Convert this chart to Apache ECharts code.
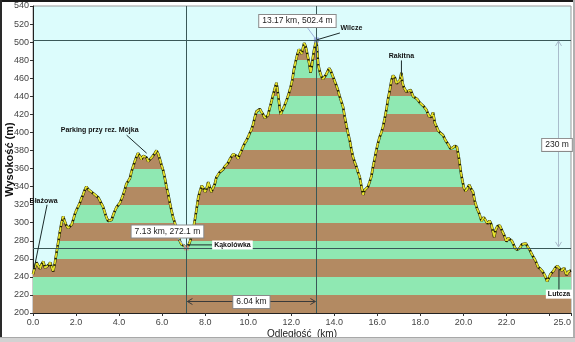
<!DOCTYPE html>
<html><head><meta charset="utf-8">
<script src="https://cdn.jsdelivr.net/npm/echarts@6/dist/echarts.min.js"></script>
<style>
html,body{margin:0;padding:0;background:#fff;}
#c{position:absolute;left:0;top:0;width:575px;height:342px;}
.fr{position:absolute;pointer-events:none;}
</style></head><body>
<div id="c"></div>
<div class="fr" style="left:0;top:0;width:575px;height:2px;background:#1a1a1a"></div>
<div class="fr" style="left:0;top:0;width:2px;height:342px;background:#2a2a2a"></div>
<div class="fr" style="right:0;top:0;width:2px;height:342px;background:#b0b0b0"></div>
<div class="fr" style="left:0;bottom:0;width:575px;height:4px;background:#d2d2d2;border-top:1px solid #a8a8a8"></div>
<script>
// ---- data ----
const distKm = [0.00,0.08,0.16,0.25,0.33,0.40,0.48,0.56,0.64,0.72,0.80,0.88,0.94,1.02,1.10,1.17,1.25,1.32,1.40,1.47,1.55,1.63,1.71,1.80,1.88,1.95,2.02,2.10,2.18,2.25,2.33,2.40,2.48,2.56,2.64,2.72,2.80,2.88,2.95,3.03,3.10,3.18,3.25,3.33,3.41,3.49,3.57,3.65,3.72,3.80,3.88,3.96,4.04,4.11,4.19,4.27,4.34,4.42,4.50,4.57,4.65,4.73,4.81,4.88,4.96,5.04,5.12,5.20,5.28,5.35,5.43,5.51,5.58,5.66,5.74,5.82,5.90,5.97,6.05,6.13,6.20,6.28,6.36,6.43,6.51,6.59,6.67,6.74,6.82,6.90,6.97,7.05,7.13,7.20,7.28,7.36,7.44,7.52,7.60,7.68,7.76,7.84,7.92,8.00,8.07,8.14,8.20,8.29,8.37,8.45,8.52,8.60,8.68,8.75,8.83,8.91,8.99,9.06,9.14,9.22,9.30,9.38,9.45,9.53,9.61,9.69,9.76,9.84,9.92,10.00,10.07,10.15,10.23,10.30,10.38,10.46,10.54,10.61,10.69,10.77,10.85,10.92,11.00,11.08,11.15,11.23,11.31,11.36,11.41,11.46,11.51,11.58,11.66,11.74,11.82,11.90,11.97,12.05,12.12,12.20,12.28,12.36,12.43,12.49,12.55,12.60,12.66,12.72,12.78,12.84,12.90,12.95,13.00,13.06,13.12,13.17,13.21,13.25,13.32,13.40,13.47,13.55,13.62,13.68,13.76,13.84,13.92,14.00,14.08,14.17,14.25,14.33,14.41,14.48,14.56,14.64,14.72,14.79,14.87,14.95,15.03,15.10,15.18,15.25,15.34,15.41,15.49,15.57,15.64,15.72,15.80,15.88,15.95,16.03,16.11,16.19,16.26,16.34,16.42,16.50,16.58,16.66,16.73,16.77,16.83,16.89,16.97,17.05,17.12,17.17,17.23,17.35,17.45,17.55,17.66,17.75,17.85,17.97,18.06,18.15,18.28,18.40,18.50,18.59,18.68,18.76,18.83,18.95,19.05,19.17,19.29,19.40,19.50,19.60,19.70,19.79,19.90,20.02,20.10,20.19,20.27,20.37,20.45,20.53,20.63,20.74,20.84,20.95,21.00,21.12,21.22,21.30,21.43,21.50,21.58,21.69,21.80,21.90,22.00,22.08,22.16,22.25,22.31,22.40,22.50,22.62,22.72,22.80,22.90,23.00,23.08,23.16,23.25,23.35,23.47,23.57,23.68,23.78,23.89,23.97,24.05,24.17,24.27,24.37,24.48,24.58,24.68,24.79,24.88,24.97,25.00];
const elevM = [243,250,256,252,249,254,257,250,248,253,256,250,246,256,268,278,290,299,307,302,297,294,292,298,304,310,314,318,322,327,331,336,340,337,337,334,335,331,332,328,325,321,318,312,306,302,300,303,308,313,317,319,322,326,331,337,343,346,349,356,362,368,373,377,374,370,374,375,372,368,367,372,374,377,380,376,370,364,358,349,340,332,322,314,306,300,293,287,280,276,275,274,272.1,274,278,285,292,303,315,328,335,341,338,334,338,345,343,334,336,343,350,353,356,355,359,362,364,366,370,373,376,374,374,371,376,380,384,388,391,395,399,403,409,416,423,424,426,423,420,416,414,419,427,434,441,448,455,448,438,428,420,424,428,433,438,444,450,458,469,478,486,492,490,487,494,499,496,490,483,476,466,472,482,491,498,502.4,490,476,468,462,459,458,464,467,471,468,463,458,453,447,440,434,428,418,408,399,391,382,373,367,362,356,351,342,331,336,337,340,345,351,362,371,380,388,395,400,406,415,425,437,447,458,463,465,460,454,456,458,466,455,450,445,446,447,440,439,437,433,431,429,425,418,417,422,410,406,402,399,397,391,387,382,383,385,384,372,353,339,335,338,342,337,334,324,316,310,302,306,308,299,302,298,284,292,296,297,291,286,279,283,284,280,277,272,270,272,276,278,277,273,270,266,262,258,251,249,246,242,235,239,243,246,250,252,249,247,250,242,246,248,247];
const yTicks = [200,220,240,260,280,300,320,340,360,380,400,420,440,460,480,500,520,540];
const xTickStepKm = 2;
const xMaxKm = 25;
const markerKm = [7.13, 13.17];
const markerElev = [272.1, 502.4];
const placeNames = ['Błażowa','Parking przy rez. Mójka','Kąkolówka','Wilcze','Rakitna','Lutcza'];
const placeKm = [0.05, 5.28, 7.13, 13.17, 17.12, 24.44];
const placeElev = [249, 377, 272.1, 502.4, 462, 248];

// ---- styling ----
const FONT = '"Liberation Sans", Arial, sans-serif';
const BROWN = '#b38a62', GREEN = '#8fe8b2', SKY = '#dcfcfc', REF = '#3a5858';
// label layout offsets relative to anchor point: [textDx,textDy, leadFromDx,leadFromDy, leadToDx,leadToDy, boxed]
const placeLayout = [
  [9.5,-68, 0,0, 13,-64, false],
  [-47,-23, 0,0, -20,-18, false],
  [46,-3, 1,-3, 25.5,-3, true],
  [35,-11.5, 0,0, 23.5,-7, false],
  [0,-20, 0,0, 0,-16, false],
  [0,24.5, 0,0, 0,20, true]
];
const valueLayout = [[-19,-16.5,-9.5,-10.5],[-19,-19,-9.5,-13]];

const data = distKm.map((d,i)=>[d, elevM[i]]);
const chart = echarts.init(document.getElementById('c'), null, {renderer:'canvas'});

const base = {
  animation:false,
  grid:{left:33, top:6, width:538, height:307, outerBoundsMode:'none', containLabel:false,
    show:true, backgroundColor:SKY, borderColor:'#9a9a9a', borderWidth:1},
  xAxis:{type:'value', min:0, max:xMaxKm, interval:xTickStepKm,
    name:'Odległość  (km)', nameLocation:'middle', nameGap:16, nameMoveOverlap:false,
    nameTextStyle:{fontFamily:FONT, fontSize:10, color:'#222'},
    axisLine:{show:true, lineStyle:{color:'#222'}},
    axisTick:{show:true, length:3, lineStyle:{color:'#333'}},
    axisLabel:{fontFamily:FONT, fontSize:9, color:'#444', margin:5, showMaxLabel:true, alignMaxLabel:'right',
      formatter:v=> (v===24 ? '' : v.toFixed(1))},
    splitLine:{show:false}},
  yAxis:{type:'value', min:yTicks[0], max:yTicks[yTicks.length-1], interval:yTicks[1]-yTicks[0],
    name:'Wysokość (m)', nameLocation:'middle', nameGap:18, nameMoveOverlap:false,
    nameTextStyle:{fontFamily:FONT, fontSize:11, fontWeight:'bold', color:'#111'},
    axisLine:{show:true, lineStyle:{color:'#222'}},
    axisTick:{show:true, length:3, lineStyle:{color:'#333'}},
    axisLabel:{fontFamily:FONT, fontSize:9, color:'#444', margin:4},
    splitLine:{show:false}},
  series:[]
};
chart.setOption(base);

const y0 = chart.convertToPixel({yAxisIndex:0}, yTicks[0]);
const y1 = chart.convertToPixel({yAxisIndex:0}, yTicks[yTicks.length-1]);
const span = yTicks[yTicks.length-1]-yTicks[0];
const stops = [];
for (let i=0;i<yTicks.length-1;i++){
  const c = i%2===0 ? BROWN : GREEN;
  stops.push({offset:(yTicks[i]-yTicks[0])/span, color:c});
  stops.push({offset:(yTicks[i+1]-yTicks[0])/span, color:c});
}
const bandFill = {type:'linear', x:0, y:y0, x2:0, y2:y1, global:true, colorStops:stops};

const P = (km,m)=>chart.convertToPixel({xAxisIndex:0,yAxisIndex:0},[km,m]);
const g = [];
const Z = 50;
function line(a,b,color){ g.push({type:'line', z:Z, silent:true, shape:{x1:a[0],y1:a[1],x2:b[0],y2:b[1]}, style:{stroke:color, lineWidth:1}}); }
function pl(pts,color){ g.push({type:'polyline', z:Z, silent:true, shape:{points:pts}, style:{stroke:color, fill:null, lineWidth:1}}); }
function txt(x,y,t,opt){ g.push({type:'text', z:Z+1, silent:true, x:x, y:y, style:Object.assign({text:t, align:'center', verticalAlign:'middle', fill:'#111'}, opt)}); }

// value readouts
markerKm.forEach((km,i)=>{
  const A = P(km, markerElev[i]); const L = valueLayout[i];
  line([A[0]+L[2],A[1]+L[3]], A, '#9fb2dc');
  txt(A[0]+L[0], A[1]+L[1], km.toFixed(2)+' km, '+markerElev[i].toFixed(1)+' m',
    {font:'8.5px '+FONT, fill:'#222', backgroundColor:'#fff', borderColor:'#8a8a8a', borderWidth:1, padding:[2,3,1,3]});
});
// place labels
placeNames.forEach((n,i)=>{
  const A = P(placeKm[i], placeElev[i]); const L = placeLayout[i];
  line([A[0]+L[2],A[1]+L[3]],[A[0]+L[4],A[1]+L[5]], '#1c2b2b');
  const o = {font:'bold 7px '+FONT, fill:'#111'};
  if (L[6]) Object.assign(o,{backgroundColor:'#fff', padding:[1,2,1,2]});
  txt(A[0]+L[0], A[1]+L[1], n, o);
});
// horizontal distance dimension
{
  const a = P(markerKm[0], 213.5), b = P(markerKm[1], 213.5);
  const yy = Math.round(a[1])+0.5, xa=a[0]+1, xb=b[0]-1;
  line([xa,yy],[xb,yy],'#3a3a3a');
  pl([[xa+5,yy-3],[xa,yy],[xa+5,yy+3]],'#3a3a3a');
  pl([[xb-5,yy-3],[xb,yy],[xb-5,yy+3]],'#3a3a3a');
  txt((xa+xb)/2, yy+0.5, (markerKm[1]-markerKm[0]).toFixed(2)+' km',
    {font:'8.5px '+FONT, fill:'#222', backgroundColor:'#fff', borderColor:'#8a8a8a', borderWidth:1, padding:[2,3,1,3]});
}
// vertical height dimension
{
  const gx = chart.convertToPixel({xAxisIndex:0}, xMaxKm) - 12.5;
  const ya = chart.convertToPixel({yAxisIndex:0}, markerElev[1])+1, yb = chart.convertToPixel({yAxisIndex:0}, markerElev[0])-1;
  const col = '#a9bccb';
  line([gx,ya],[gx,yb],col);
  pl([[gx-3,ya+5],[gx,ya],[gx+3,ya+5]],col);
  pl([[gx-3,yb-5],[gx,yb],[gx+3,yb-5]],col);
  txt(gx-1.5, (ya+yb)/2+1, (markerElev[1]-markerElev[0]).toFixed(0)+' m',
    {font:'8.5px '+FONT, fill:'#222', backgroundColor:'#fff', borderColor:'#8a8a8a', borderWidth:1, padding:[2,3,1,3]});
}

chart.setOption({
  series:[
    {type:'line', name:'profil', data:data, showSymbol:false, z:2,
      lineStyle:{color:'#1e1e00', width:2.6}, areaStyle:{color:bandFill, opacity:1},
      markLine:{silent:true, symbol:['none','none'], label:{show:false},
        lineStyle:{color:REF, width:1, type:'solid'},
        data:[{yAxis:markerElev[1]},{yAxis:markerElev[0]},{xAxis:markerKm[0]},{xAxis:markerKm[1]}]}},
    {type:'line', name:'profil2', data:data, showSymbol:false, z:3,
      lineStyle:{color:'#e6e22e', width:1.8, type:[5,1.5]}},
    {type:'scatter', name:'pkt', z:4, symbol:'rect', symbolSize:5,
      data:markerKm.map((k,i)=>[k, markerElev[i]]),
      itemStyle:{color:(p)=> p.dataIndex===0 ? '#d98a80' : '#8597dc'}}
  ],
  graphic:g
});
</script>
</body></html>
